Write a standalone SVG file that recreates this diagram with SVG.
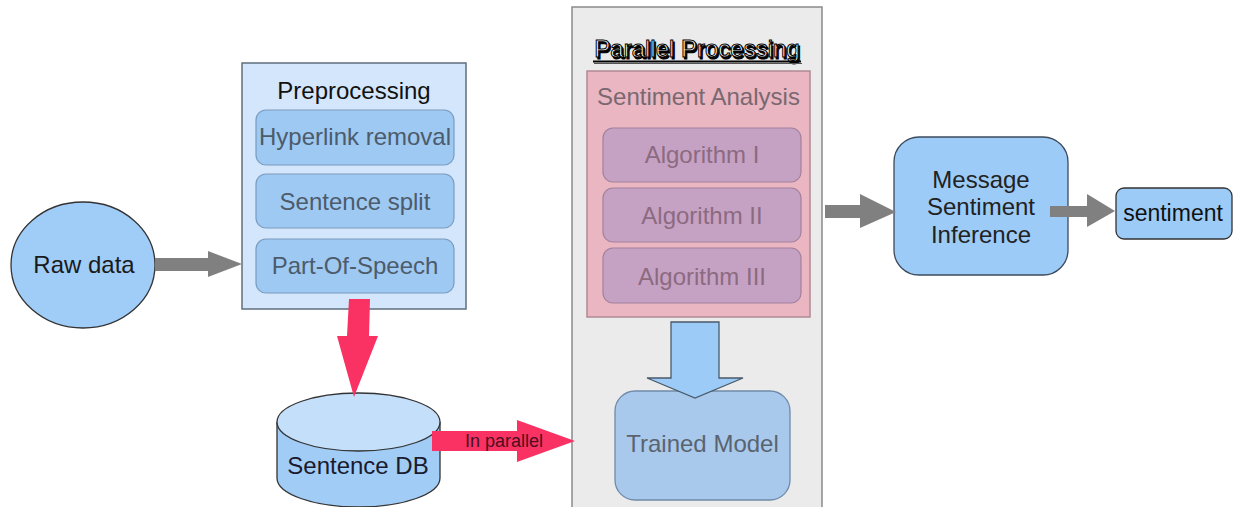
<svg xmlns="http://www.w3.org/2000/svg" width="1233" height="507" viewBox="0 0 1233 507">
<style>
text{font-family:"Liberation Sans",Arial,sans-serif;text-anchor:middle}
.t24{font-size:24px}
.pre-item{fill:#9ec9f3;stroke:#7a9cc0;stroke-width:1.2}
.pre-txt{fill:#4d5b6a}
.algo{fill:#c5a2c4;stroke:#a4809c;stroke-width:1.2}
.algo-txt{fill:#8c6a80}
.gray-arrow{fill:#808080}
.pink-arrow{fill:#fa3264}
.blue-node{fill:#9ccbf7;stroke:#3d4a5c;stroke-width:1.3}
</style>
<rect width="1233" height="507" fill="#fff"/>

<g id="parallel-processing">
<rect x="572" y="7" width="250" height="520" fill="#ebebeb" stroke="#8a8a8a" stroke-width="1.5"/>
<text x="698.5" y="58.5" font-size="24" fill="#000" stroke="#000" stroke-width="1">Parallel Processing</text>
<text x="697" y="57" font-size="24" fill="#fff" stroke="#000" stroke-width="1">Parallel Processing</text>
<line x1="593" y1="61.5" x2="801" y2="61.5" stroke="#000" stroke-width="2"/>
<line x1="594" y1="63.5" x2="802" y2="63.5" stroke="#555" stroke-width="1"/>
</g>

<g id="sentiment-analysis">
<rect x="587" y="71" width="223" height="246" fill="#e9b6c2" stroke="#b08a94" stroke-width="1.5"/>
<text class="t24" x="698.5" y="105" fill="#7a6870">Sentiment Analysis</text>
</g>
<g id="algorithm-1">
<rect class="algo" x="603" y="128" width="198" height="54" rx="10"/>
<text class="t24 algo-txt" x="702" y="163">Algorithm I</text>
</g>
<g id="algorithm-2">
<rect class="algo" x="603" y="188" width="198" height="54" rx="10"/>
<text class="t24 algo-txt" x="702" y="224">Algorithm II</text>
</g>
<g id="algorithm-3">
<rect class="algo" x="603" y="248" width="198" height="55" rx="10"/>
<text class="t24 algo-txt" x="702" y="285">Algorithm III</text>
</g>

<g id="trained-model">
<rect x="615" y="391" width="175" height="109" rx="20" fill="#a9c9ec" stroke="#6f8aa8" stroke-width="1.3"/>
<text class="t24" x="702.5" y="452" fill="#5a6470">Trained Model</text>
</g>

<g id="raw-data">
<ellipse cx="83" cy="265" rx="72" ry="63" fill="#9fcdf8" stroke="#333" stroke-width="1.3"/>
<text class="t24" x="84" y="273" fill="#1a1a1a">Raw data</text>
</g>

<g id="preprocessing">
<rect x="242" y="63" width="224" height="246" fill="#d4e6fb" stroke="#5f6f7f" stroke-width="1.5"/>
<text class="t24" x="354" y="99" fill="#111">Preprocessing</text>
</g>
<g id="hyperlink-removal">
<rect class="pre-item" x="256" y="110" width="198" height="55" rx="10"/>
<text class="t24 pre-txt" x="355" y="145">Hyperlink removal</text>
</g>
<g id="sentence-split">
<rect class="pre-item" x="256" y="174" width="198" height="54" rx="10"/>
<text class="t24 pre-txt" x="355" y="210">Sentence split</text>
</g>
<g id="part-of-speech">
<rect class="pre-item" x="256" y="239" width="198" height="54" rx="10"/>
<text class="t24 pre-txt" x="355" y="274">Part-Of-Speech</text>
</g>

<g id="sentence-db">
<path d="M277,422 L277,478 A81.5,29 0 0 0 440,478 L440,422" fill="#a0ccf5" stroke="#333" stroke-width="1.3"/>
<ellipse cx="358.5" cy="422" rx="81.5" ry="29" fill="#c4dffa" stroke="#333" stroke-width="1.3"/>
<text class="t24" x="358" y="474" fill="#1a1a2e">Sentence DB</text>
</g>

<g id="message-sentiment-inference">
<rect class="blue-node" x="894" y="137" width="174" height="138" rx="25"/>
<text class="t24" x="981" y="188" fill="#222">Message</text>
<text class="t24" x="981" y="215" fill="#222">Sentiment</text>
<text class="t24" x="981" y="243" fill="#222">Inference</text>
</g>

<g id="sentiment">
<rect x="1116" y="188" width="116" height="51" rx="8" fill="#9ccbf7" stroke="#333" stroke-width="1.3"/>
<text x="1173" y="221" font-size="23" fill="#111">sentiment</text>
</g>

<g id="connectors">
<polygon class="gray-arrow" points="155,258 208,258 208,251 242,264 208,277 208,271 155,271"/>
<polygon class="pink-arrow" points="349,299 370,299 369,336 378,336 354,397 337,336 347,336"/>
<polygon class="pink-arrow" points="432,431 517,431 517,420 575,441 517,462 517,451 432,451"/>
<text x="504" y="447" font-size="18" fill="#4a1020">In parallel</text>
<polygon points="671,322 719,322 719,378 743,378 695,398 647,378 671,378" fill="#9ccbf7" stroke="#4a5a6a" stroke-width="1.3"/>
<polygon class="gray-arrow" points="825,205 860,205 860,194 896,212 860,228 860,218 825,218"/>
<polygon class="gray-arrow" points="1050,206 1087,206 1087,194 1115,211 1087,227 1087,217 1050,217"/>
</g>
</svg>
